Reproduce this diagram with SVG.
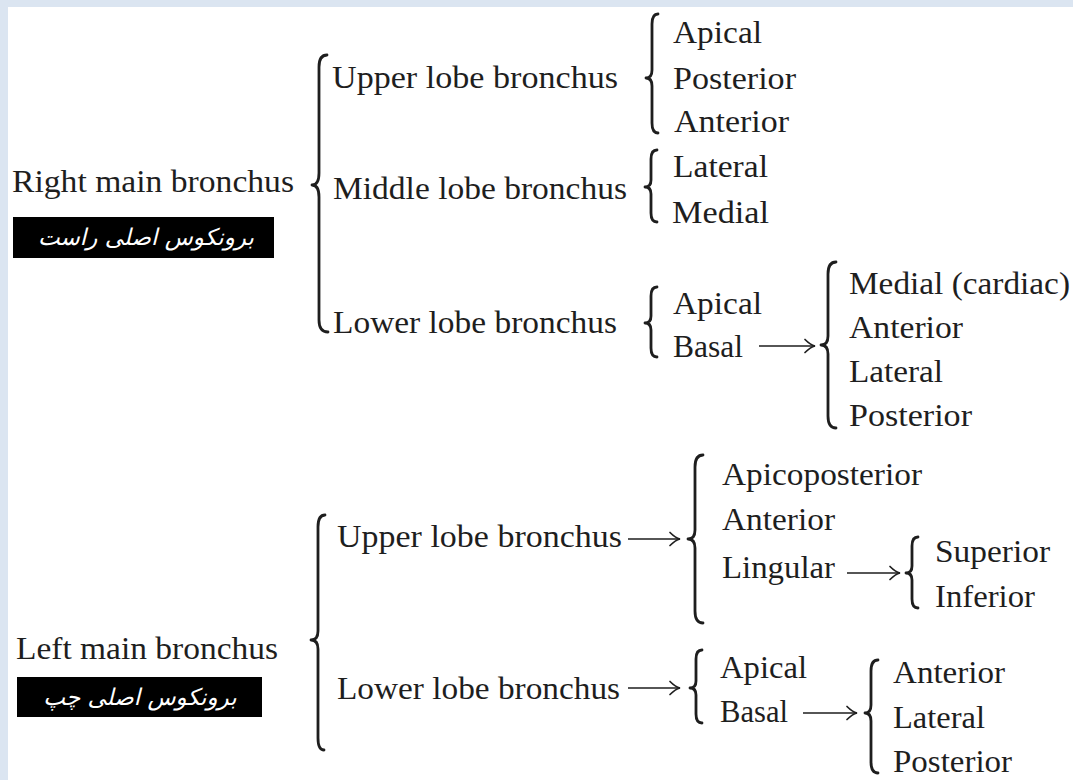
<svg xmlns="http://www.w3.org/2000/svg" width="1073" height="780" viewBox="0 0 1073 780">
  <defs>
    <style>
      .t { font-family: "Liberation Serif", "Times New Roman", serif; font-size: 32px; fill: #1e1e1e; }
      .fa { font-family: "DejaVu Sans", "Noto Sans", sans-serif; font-size: 23px; font-style: italic; fill: #ffffff; }
      .brace { fill: none; stroke: #1e1e1e; stroke-width: 2.8; stroke-linecap: round; stroke-linejoin: round; }
      .arrow { fill: none; stroke: #1e1e1e; stroke-width: 1.6; }
      .head { fill: none; stroke: #1e1e1e; stroke-width: 1.7; stroke-linecap: round; }
    </style>
    <marker id="arrowhead" markerUnits="userSpaceOnUse" markerWidth="18" markerHeight="18" refX="13" refY="9" orient="auto" overflow="visible">
      <path class="head" d="M3,2.5 Q8.5,8 13,9 Q8.5,10 3,15.5"/>
    </marker>
  </defs>

  <!-- page frame -->
  <rect x="0" y="0" width="1073" height="780" fill="#ffffff"/>
  <rect x="0" y="0" width="1073" height="7" fill="#dbe5f1"/>
  <rect x="0" y="0" width="8" height="780" fill="#dbe5f1"/>

  <!-- right main bronchus -->
  <g id="right-main">
    <text class="t" x="12" y="192" textLength="282" lengthAdjust="spacingAndGlyphs">Right main bronchus</text>
    <rect x="13" y="217" width="261" height="41" fill="#000000"/>
    <text class="fa" x="146" y="245" text-anchor="middle" direction="rtl">برونکوس اصلی راست</text>
  </g>

  <g id="right-upper">
    <text class="t" x="332" y="88" textLength="286" lengthAdjust="spacingAndGlyphs">Upper lobe bronchus</text>
  </g>
  <g id="right-upper-segments">
    <text class="t" x="673" y="43" textLength="89" lengthAdjust="spacingAndGlyphs">Apical</text>
    <text class="t" x="673" y="89" textLength="123" lengthAdjust="spacingAndGlyphs">Posterior</text>
    <text class="t" x="674" y="132" textLength="115" lengthAdjust="spacingAndGlyphs">Anterior</text>
  </g>

  <g id="right-middle">
    <text class="t" x="333" y="199" textLength="294" lengthAdjust="spacingAndGlyphs">Middle lobe bronchus</text>
  </g>
  <g id="right-middle-segments">
    <text class="t" x="673" y="177" textLength="95" lengthAdjust="spacingAndGlyphs">Lateral</text>
    <text class="t" x="672" y="223" textLength="97" lengthAdjust="spacingAndGlyphs">Medial</text>
  </g>

  <g id="right-lower">
    <text class="t" x="333" y="333" textLength="284" lengthAdjust="spacingAndGlyphs">Lower lobe bronchus</text>
  </g>
  <g id="right-lower-segments">
    <text class="t" x="673" y="314" textLength="89" lengthAdjust="spacingAndGlyphs">Apical</text>
    <text class="t" x="673" y="357" textLength="70" lengthAdjust="spacingAndGlyphs">Basal</text>
  </g>
  <g id="right-basal-segments">
    <text class="t" x="849" y="294" textLength="221" lengthAdjust="spacingAndGlyphs">Medial (cardiac)</text>
    <text class="t" x="849" y="338" textLength="114" lengthAdjust="spacingAndGlyphs">Anterior</text>
    <text class="t" x="849" y="382" textLength="94" lengthAdjust="spacingAndGlyphs">Lateral</text>
    <text class="t" x="849" y="426" textLength="123" lengthAdjust="spacingAndGlyphs">Posterior</text>
  </g>

  <!-- left main bronchus -->
  <g id="left-main">
    <text class="t" x="16" y="659" textLength="262" lengthAdjust="spacingAndGlyphs">Left main bronchus</text>
    <rect x="17" y="677" width="245" height="40" fill="#000000"/>
    <text class="fa" x="140" y="705" text-anchor="middle" direction="rtl">برونکوس اصلی چپ</text>
  </g>

  <g id="left-upper">
    <text class="t" x="337" y="547" textLength="285" lengthAdjust="spacingAndGlyphs">Upper lobe bronchus</text>
  </g>
  <g id="left-upper-segments">
    <text class="t" x="722" y="485" textLength="200" lengthAdjust="spacingAndGlyphs">Apicoposterior</text>
    <text class="t" x="722" y="530" textLength="113" lengthAdjust="spacingAndGlyphs">Anterior</text>
    <text class="t" x="722" y="578" textLength="113" lengthAdjust="spacingAndGlyphs">Lingular</text>
  </g>
  <g id="lingular-segments">
    <text class="t" x="935" y="562" textLength="115" lengthAdjust="spacingAndGlyphs">Superior</text>
    <text class="t" x="935" y="607" textLength="100" lengthAdjust="spacingAndGlyphs">Inferior</text>
  </g>

  <g id="left-lower">
    <text class="t" x="337" y="699" textLength="283" lengthAdjust="spacingAndGlyphs">Lower lobe bronchus</text>
  </g>
  <g id="left-lower-segments">
    <text class="t" x="720" y="678" textLength="87" lengthAdjust="spacingAndGlyphs">Apical</text>
    <text class="t" x="720" y="722" textLength="68" lengthAdjust="spacingAndGlyphs">Basal</text>
  </g>
  <g id="left-basal-segments">
    <text class="t" x="893" y="683" textLength="112" lengthAdjust="spacingAndGlyphs">Anterior</text>
    <text class="t" x="893" y="728" textLength="92" lengthAdjust="spacingAndGlyphs">Lateral</text>
    <text class="t" x="893" y="772" textLength="119" lengthAdjust="spacingAndGlyphs">Posterior</text>
  </g>

  <!-- braces and arrows -->
  <g id="connectors">
    <!-- right main -->
    <path class="brace" d="M327,55 Q319,55 319,67 L319,173 Q319,185 312,185 Q319,185 319,197 L319,320 Q319,332 328,332"/>
    <!-- right upper lobe -->
    <path class="brace" d="M658,14 Q652,14 652,24 L652,70 Q652,78 646,78 Q652,78 652,86 L652,123 Q652,133 658,133"/>
    <!-- right middle lobe -->
    <path class="brace" d="M657,150 Q651,150 651,159 L651,180 Q651,187 645,187 Q651,187 651,194 L651,213 Q651,222 657,222"/>
    <!-- right lower lobe -->
    <path class="brace" d="M657,287 Q651,287 651,296 L651,316 Q651,323 645,323 Q651,323 651,330 L651,348 Q651,357 657,357"/>
    <!-- right basal -->
    <path class="brace" d="M836,262 Q828,262 828,274 L828,336 Q828,345 821,345 Q828,345 828,354 L828,416 Q828,428 836,428"/>
    <path class="arrow" d="M759,346 L815,346" marker-end="url(#arrowhead)"/>

    <!-- left main -->
    <path class="brace" d="M325,515 Q318,515 318,527 L318,631 Q318,640 311,640 Q318,640 318,649 L318,738 Q318,750 324,750"/>
    <!-- left upper lobe -->
    <path class="arrow" d="M628,539 L680,539" marker-end="url(#arrowhead)"/>
    <path class="brace" d="M703,455 Q695,455 695,467 L695,530 Q695,539 688,539 Q695,539 695,548 L695,611 Q695,623 703,623"/>
    <!-- lingular -->
    <path class="arrow" d="M847,573 L900,573" marker-end="url(#arrowhead)"/>
    <path class="brace" d="M918,537 Q912,537 912,546 L912,566 Q912,573 906,573 Q912,573 912,580 L912,599 Q912,608 918,608"/>
    <!-- left lower lobe -->
    <path class="arrow" d="M628,688 L680,688" marker-end="url(#arrowhead)"/>
    <path class="brace" d="M702,650 Q696,650 696,659 L696,681 Q696,688 690,688 Q696,688 696,695 L696,714 Q696,723 702,723"/>
    <!-- left basal -->
    <path class="arrow" d="M803,713 L857,713" marker-end="url(#arrowhead)"/>
    <path class="brace" d="M878,660 Q871,660 871,671 L871,705 Q871,713 865,713 Q871,713 871,721 L871,762 Q871,773 878,773"/>
  </g>
</svg>
